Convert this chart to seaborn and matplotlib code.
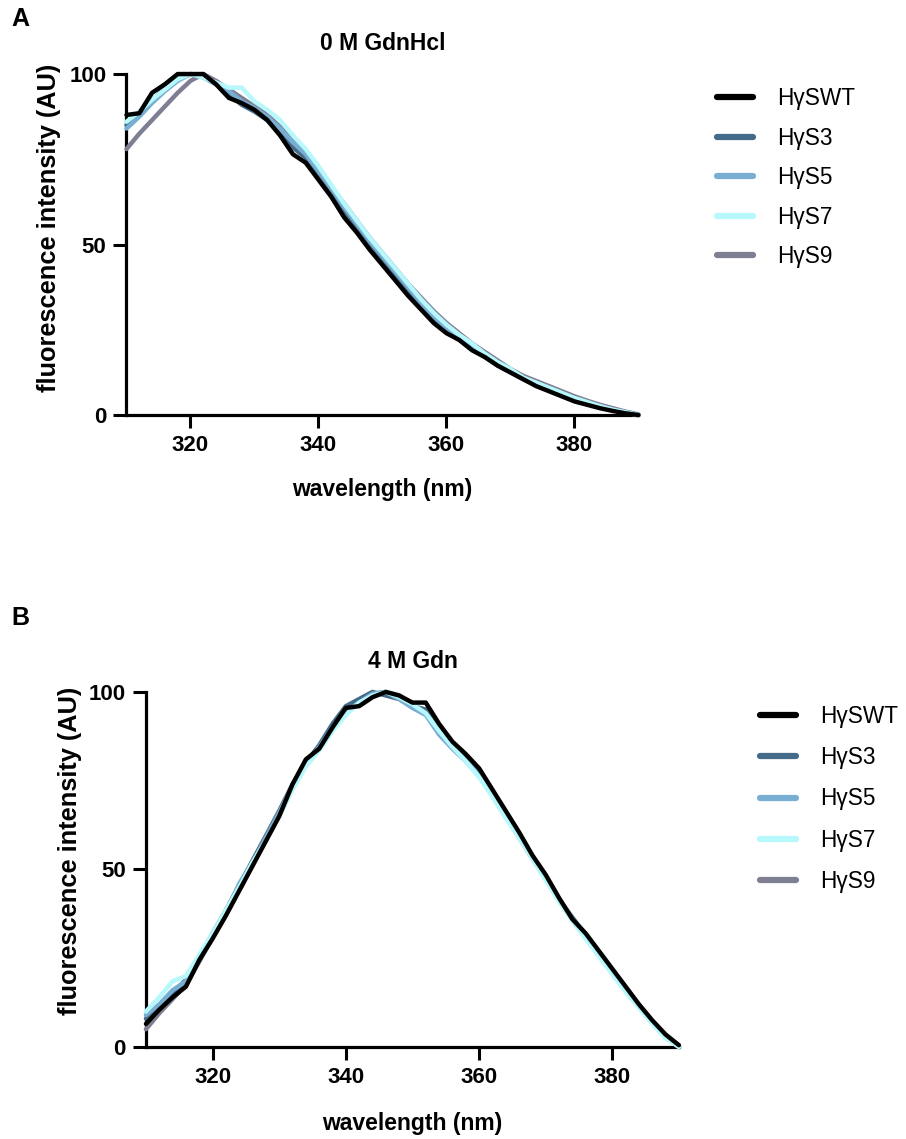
import matplotlib
matplotlib.use("Agg")
import matplotlib.pyplot as plt
from matplotlib.lines import Line2D
import pandas as pd
import seaborn as sns

# Emission wavelengths (nm), 2 nm steps
wavelength = list(range(310, 391, 2))

variants = ["HγSWT", "HγS3", "HγS5", "HγS7", "HγS9"]
palette = {
    "HγSWT": "#000000",
    "HγS3": "#456b88",
    "HγS5": "#79aed3",
    "HγS7": "#b6f8fb",
    "HγS9": "#7f7f94",
}

# Normalised fluorescence, 0 M GdnHcl
native_wt = [88, 88.5, 94.5, 97, 100, 100, 100, 97, 93, 91.5, 89.5, 86.5, 82, 76.5,
             74, 69, 64, 58, 53.5, 48.5, 44, 39.5, 35, 31, 27, 24, 22, 19, 17, 14.5,
             12.5, 10.5, 8.5, 7, 5.5, 4, 3, 2, 1.2, 0.5, 0]
native_s3 = [85, 88, 92, 96, 98.5, 100, 99.5, 97, 94, 91, 89, 86.5, 83, 78.5, 75.5,
             70.5, 65.5, 60, 55, 50, 45.5, 41, 36.5, 32, 28, 25, 22.5, 19.5, 17, 14.5,
             12.5, 10.5, 9, 7.5, 6, 4.5, 3.5, 2.3, 1.5, 0.7, 0]
native_s5 = [84, 87.5, 91.5, 95, 98, 100, 99, 97, 95, 92, 90, 87.5, 84, 80, 76.5,
             71.5, 66.5, 61, 56, 51, 46.5, 42, 37.5, 33, 29, 25.5, 23, 20, 17.5, 15,
             13, 11, 9, 7.5, 6, 4.8, 3.6, 2.5, 1.5, 0.8, 0]
native_s7 = [86, 89, 92.5, 95.5, 98.5, 100, 99, 97.5, 96, 96, 92, 89.5, 86.5, 82, 78,
             73, 67.5, 62, 57, 52, 47.5, 43, 38.5, 34, 30, 26.5, 23.5, 21, 18, 15.5,
             13.5, 11, 9.5, 8, 6.5, 5, 3.8, 2.6, 1.6, 0.8, 0]
native_s9 = [78, 82.5, 86.5, 90.5, 94.5, 98, 100, 98, 95.5, 93, 90.5, 88, 84.5, 80.5,
             77, 72, 67, 62, 57, 52, 47.5, 43, 38.5, 34.5, 30.5, 27, 24, 21, 18.5, 16,
             13.5, 11.5, 10, 8.5, 7, 5.5, 4.2, 3, 2, 1, 0.2]

# Normalised fluorescence, 4 M Gdn
denat_wt = [6.5, 10.5, 14, 17, 24.5, 30.5, 37, 44, 51, 58, 65, 74, 81, 84, 90, 95.5,
            96, 98.5, 100, 99, 97, 97, 91, 86, 82.5, 78.5, 72.5, 66.5, 60.5, 54, 48.5,
            42, 36, 32, 27, 22, 17, 12, 7.5, 3.5, 0.5]
denat_s3 = [8, 11, 15, 19, 25, 32, 38.5, 45.5, 52.5, 59.5, 66.5, 74, 80, 85, 91, 96,
            98, 100, 99, 98, 96, 95, 90, 85.5, 81.5, 77, 71.5, 65.5, 59.5, 53.5, 47.5,
            41.5, 36.5, 31.5, 26.5, 21.5, 16.5, 11.5, 7, 3, 0]
denat_s5 = [9, 12, 16, 18.5, 25, 31.5, 38, 46, 52, 59, 66, 73.5, 79.5, 84.5, 90, 94.5,
            97, 99.5, 100, 98, 95.5, 93.5, 88, 84, 80.5, 76.5, 71, 65, 59, 53, 47.5,
            41.5, 36, 31, 26, 21, 16, 11.5, 7, 3, 0]
denat_s7 = [10, 14, 18.5, 20, 26, 32, 38.5, 45, 52, 58, 65, 72.5, 79, 83.5, 89, 93.5,
            97, 99, 100, 98.5, 96.5, 94, 89, 84.5, 80.5, 76, 70.5, 64.5, 59, 53, 47,
            41, 35.5, 30.5, 25.5, 20.5, 15.5, 11, 6.5, 2.5, 0]
denat_s9 = [5, 9.5, 13.5, 17.5, 24, 31, 38, 45.5, 52, 58.5, 65.5, 73, 80, 84, 89.5,
            94.5, 97.5, 99.5, 100, 99, 96, 95, 89.5, 85, 81.5, 77, 71, 65, 59.5, 53.5,
            47.5, 41.5, 36, 31, 26, 21, 16.5, 11.5, 7, 3, 0]

x_ticks = [320, 340, 360, 380]
y_ticks = [0, 50, 100]

sns.set_theme(style="ticks")
plt.rcParams["font.family"] = ["Liberation Sans", "DejaVu Sans"]
plt.rcParams["text.color"] = "black"
plt.rcParams["axes.labelcolor"] = "black"
plt.rcParams["xtick.color"] = "black"
plt.rcParams["ytick.color"] = "black"


def long_table(curves):
    frames = []
    for name, values in zip(variants, curves):
        frames.append(pd.DataFrame({"wavelength": wavelength,
                                    "intensity": values,
                                    "variant": name}))
    return pd.concat(frames, ignore_index=True)


def draw_panel(ax, curves, title, legend_anchor, row_gap, ylabel_xy, xlabel_pad):
    table = long_table(curves)
    # coloured variants underneath, wild type on top
    for name in ["HγS9", "HγS3", "HγS5", "HγS7", "HγSWT"]:
        sub = table[table["variant"] == name]
        sns.lineplot(data=sub, x="wavelength", y="intensity", ax=ax,
                     color=palette[name], linewidth=3.2, errorbar=None,
                     legend=False, clip_on=False,
                     zorder=5 if name == "HγSWT" else 3)
    ax.set_xlim(310, 390)
    ax.set_ylim(0, 100)
    ax.set_xticks(x_ticks)
    ax.set_yticks(y_ticks)
    sns.despine(ax=ax)
    for side in ("left", "bottom"):
        ax.spines[side].set_linewidth(2.3)
        ax.spines[side].set_color("black")
    ax.tick_params(axis="both", length=9.5, width=2.2, color="black",
                   labelcolor="black", labelsize=16, pad=5)
    for lab in ax.get_xticklabels() + ax.get_yticklabels():
        lab.set_fontweight("bold")
    ax.set_xlabel("wavelength (nm)", fontsize=16.5, fontweight="bold",
                  labelpad=xlabel_pad, color="black")
    ax.set_ylabel("fluorescence intensity (AU)", fontsize=18.3, fontweight="bold",
                  color="black")
    ax.yaxis.set_label_coords(*ylabel_xy)
    ax.yaxis.label.set_verticalalignment("center")
    ax.set_title(title, fontsize=16.5, fontweight="bold", pad=17, color="black")

    handles = [Line2D([], [], color=palette[n], linewidth=4.5) for n in variants]
    leg = ax.legend(handles, variants, loc="upper left", bbox_to_anchor=legend_anchor,
                    bbox_transform=fig.transFigure, frameon=False, fontsize=16.3,
                    handlelength=1.6, handletextpad=1.05, labelspacing=row_gap,
                    borderpad=0, borderaxespad=0)
    for t in leg.get_texts():
        t.set_color("black")


fig = plt.figure(figsize=(9.06, 11.39), dpi=100)
ax_a = fig.add_axes([0.1396, 0.6356, 0.5651, 0.2994])
ax_b = fig.add_axes([0.1611, 0.0808, 0.5883, 0.3117])

draw_panel(ax_a, [native_wt, native_s3, native_s5, native_s7, native_s9],
           "0 M GdnHcl", (0.791, 0.9235), 0.73, (-0.152, 0.548), 16)
draw_panel(ax_b, [denat_wt, denat_s3, denat_s5, denat_s7, denat_s9],
           "4 M Gdn", (0.839, 0.3812), 0.81, (-0.1426, 0.552), 17)

fig.text(0.013, 0.983, "A", fontsize=18, fontweight="bold", va="center")
fig.text(0.013, 0.457, "B", fontsize=18, fontweight="bold", va="center")

fig.savefig("out.png", dpi=100, facecolor="white")
